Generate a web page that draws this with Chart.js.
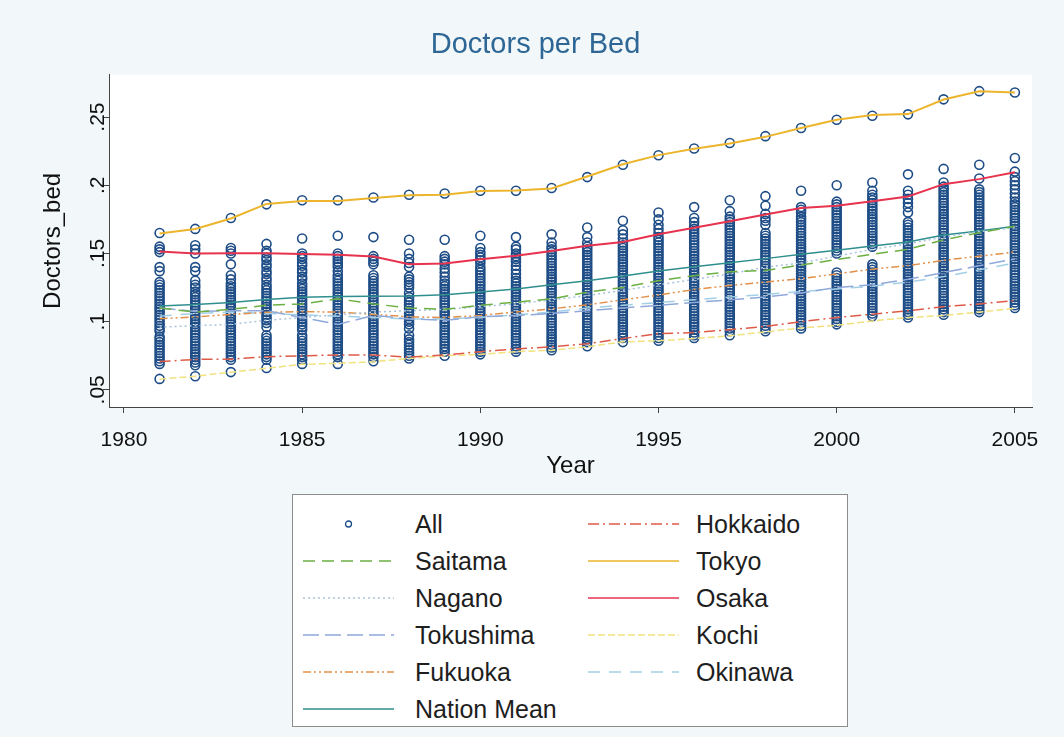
<!DOCTYPE html>
<html>
<head>
<meta charset="utf-8">
<title>Doctors per Bed</title>
<script src="https://cdn.jsdelivr.net/npm/chart.js@4.4.1/dist/chart.umd.min.js"></script>
<style>
  html, body { margin: 0; padding: 0; background: #f2f8f9; }
  body { width: 1064px; height: 737px; position: relative; overflow: hidden;
         font-family: "Liberation Sans", Arial, Helvetica, sans-serif; }
  #chartBox { position: absolute; left: 0; top: 0; width: 1064px; height: 490px; }
  #legend { position: absolute; left: 292px; top: 494px; width: 556px; height: 233px;
            box-sizing: border-box; border: 1px solid #8c8c8c; background: #fff; }
  .item { position: absolute; height: 30px; display: flex; align-items: center; white-space: nowrap; }
  .item svg { display: block; }
  .item span { position: absolute; font-size: 25px; color: #1e1e1e; line-height: 30px; }
</style>
</head>
<body>
<div id="chartBox"><canvas id="chart"></canvas></div>
<div id="legend"></div>

<script>
// --- data ---
const years = [1981, 1982, 1983, 1984, 1985, 1986, 1987, 1988, 1989, 1990, 1991, 1992, 1993,
               1994, 1995, 1996, 1997, 1998, 1999, 2000, 2001, 2002, 2003, 2004, 2005];

const xTicks = [1980, 1985, 1990, 1995, 2000, 2005];
const yTicks = [0.05, 0.1, 0.15, 0.2, 0.25];
const yTickLabels = ['.05', '.1', '.15', '.2', '.25'];

// all prefectures, one list per year (same order as years)
const allPoints = [
  [.165,.155,.153,.151,.140,.137,.129,.127,.125,.123,.121,.119,.117,.115,.113,.111,.109,.107,.105,.103,.101,.099,.097,.095,.093,.089,.087,.085,.083,.081,.079,.077,.075,.073,.071,.069,.058],
  [.168,.156,.153,.150,.140,.137,.130,.127,.125,.122,.120,.118,.116,.114,.112,.110,.108,.106,.104,.102,.100,.098,.096,.094,.092,.090,.088,.086,.084,.082,.080,.078,.076,.074,.072,.070,.068,.060],
  [.176,.154,.152,.150,.142,.134,.131,.128,.126,.124,.122,.120,.118,.116,.114,.112,.110,.108,.106,.104,.102,.100,.098,.096,.094,.092,.090,.088,.086,.084,.082,.080,.078,.076,.074,.072,.063],
  [.186,.157,.152,.150,.147,.145,.142,.140,.137,.135,.132,.130,.127,.125,.123,.121,.119,.117,.115,.113,.111,.109,.107,.105,.103,.101,.099,.096,.090,.088,.086,.084,.082,.080,.078,.076,.074,.072,.066],
  [.189,.161,.150,.148,.146,.143,.141,.138,.136,.133,.131,.128,.126,.124,.122,.120,.118,.116,.114,.112,.110,.108,.106,.104,.102,.100,.098,.096,.094,.090,.088,.086,.084,.082,.080,.078,.076,.074,.072,.069],
  [.189,.163,.150,.148,.146,.144,.142,.140,.137,.134,.132,.130,.128,.126,.124,.122,.120,.118,.116,.114,.112,.110,.108,.106,.104,.102,.100,.098,.096,.094,.092,.090,.088,.086,.084,.082,.080,.078,.076,.074,.069],
  [.191,.162,.148,.146,.144,.142,.134,.132,.130,.128,.126,.124,.122,.120,.118,.116,.114,.112,.110,.108,.106,.104,.102,.100,.098,.096,.094,.092,.090,.088,.086,.084,.082,.080,.078,.076,.074,.071],
  [.193,.160,.150,.146,.143,.140,.133,.131,.129,.127,.125,.121,.118,.116,.114,.112,.110,.108,.106,.104,.102,.100,.098,.095,.090,.087,.085,.083,.081,.079,.077,.075,.073],
  [.194,.160,.148,.146,.144,.142,.139,.136,.133,.130,.128,.126,.124,.122,.120,.118,.116,.114,.112,.110,.108,.106,.104,.102,.100,.098,.096,.094,.092,.090,.088,.086,.084,.082,.080,.078,.075],
  [.196,.163,.154,.151,.149,.147,.145,.143,.140,.138,.136,.134,.132,.130,.128,.126,.124,.122,.120,.118,.116,.114,.112,.110,.108,.106,.104,.102,.100,.098,.096,.094,.092,.090,.088,.086,.084,.082,.080,.078,.076],
  [.196,.162,.155,.153,.150,.148,.146,.144,.141,.138,.135,.132,.130,.128,.126,.124,.122,.120,.118,.116,.114,.112,.110,.108,.106,.104,.102,.100,.098,.096,.094,.092,.090,.088,.086,.084,.082,.080,.078],
  [.198,.164,.158,.155,.153,.151,.149,.147,.145,.143,.141,.139,.137,.135,.133,.131,.129,.127,.125,.123,.121,.119,.117,.115,.113,.111,.109,.107,.105,.103,.101,.099,.097,.095,.093,.091,.089,.087,.085,.083,.081,.079],
  [.206,.169,.162,.158,.155,.153,.151,.149,.147,.145,.143,.141,.139,.137,.135,.133,.131,.129,.127,.125,.123,.121,.119,.117,.115,.113,.111,.109,.107,.105,.103,.101,.099,.097,.095,.093,.091,.089,.087,.085,.082],
  [.215,.174,.167,.164,.161,.158,.156,.154,.152,.150,.148,.146,.144,.142,.140,.138,.136,.134,.132,.130,.128,.126,.124,.122,.120,.118,.116,.114,.112,.110,.108,.106,.104,.102,.100,.098,.096,.094,.092,.090,.088,.085],
  [.222,.180,.175,.171,.168,.165,.162,.160,.158,.156,.154,.152,.150,.148,.146,.144,.142,.140,.138,.136,.134,.132,.130,.128,.126,.124,.122,.120,.118,.116,.114,.112,.110,.108,.106,.104,.102,.100,.098,.096,.094,.092,.090,.088,.086],
  [.227,.184,.176,.173,.170,.168,.166,.164,.162,.160,.158,.156,.154,.152,.150,.148,.146,.144,.142,.140,.138,.136,.134,.132,.130,.128,.126,.124,.122,.120,.118,.116,.114,.112,.110,.108,.106,.104,.102,.100,.098,.096,.094,.092,.090,.088],
  [.231,.189,.181,.177,.175,.173,.171,.169,.167,.165,.163,.161,.159,.157,.155,.153,.151,.149,.147,.145,.143,.141,.139,.137,.135,.133,.131,.129,.127,.125,.123,.121,.119,.117,.115,.113,.111,.109,.107,.105,.103,.101,.099,.097,.095,.093,.090],
  [.236,.192,.185,.179,.176,.174,.171,.165,.163,.161,.159,.157,.155,.153,.151,.149,.147,.145,.143,.141,.139,.137,.135,.133,.131,.129,.127,.125,.123,.121,.119,.117,.115,.113,.111,.109,.107,.105,.103,.101,.099,.097,.095,.093],
  [.242,.196,.184,.182,.180,.177,.175,.173,.171,.169,.167,.165,.163,.161,.159,.157,.155,.153,.151,.149,.147,.145,.143,.141,.139,.137,.135,.133,.131,.129,.127,.125,.123,.121,.119,.117,.115,.113,.111,.109,.107,.105,.103,.101,.099,.097,.095],
  [.248,.200,.188,.186,.184,.182,.180,.178,.176,.174,.172,.170,.168,.166,.164,.162,.160,.158,.156,.154,.152,.150,.136,.134,.132,.130,.128,.126,.124,.122,.120,.118,.116,.114,.112,.110,.108,.106,.104,.102,.100,.098],
  [.251,.202,.196,.193,.191,.189,.187,.185,.183,.181,.179,.177,.175,.173,.171,.169,.167,.165,.163,.161,.159,.157,.155,.142,.140,.138,.136,.134,.132,.130,.128,.126,.124,.122,.120,.118,.116,.114,.112,.110,.108,.106,.104],
  [.252,.208,.196,.193,.190,.187,.184,.180,.173,.171,.169,.167,.165,.163,.161,.159,.157,.155,.153,.151,.149,.147,.145,.143,.141,.139,.137,.135,.133,.131,.129,.127,.125,.123,.121,.119,.117,.115,.113,.111,.109,.107,.105,.103],
  [.263,.212,.202,.199,.197,.195,.193,.191,.189,.187,.185,.183,.181,.179,.177,.175,.173,.171,.169,.167,.165,.163,.161,.159,.157,.155,.153,.151,.149,.147,.145,.143,.141,.139,.137,.135,.133,.131,.129,.127,.125,.123,.121,.119,.117,.115,.113,.111,.109,.107,.105],
  [.269,.215,.205,.197,.195,.193,.191,.189,.187,.185,.183,.181,.179,.177,.175,.173,.171,.169,.167,.165,.163,.161,.159,.157,.155,.153,.151,.149,.147,.145,.143,.141,.139,.137,.135,.133,.131,.129,.127,.125,.123,.121,.119,.117,.115,.113,.111,.109,.107],
  [.268,.220,.210,.206,.203,.200,.197,.194,.191,.188,.186,.184,.182,.180,.178,.176,.174,.172,.170,.168,.166,.164,.162,.160,.158,.156,.154,.152,.150,.148,.146,.144,.142,.140,.138,.136,.134,.132,.130,.128,.126,.124,.122,.120,.118,.116,.114,.112,.110]
];

const hokkaido = [.0707,.0723,.0725,.0743,.075,.0755,.0755,.074,.0755,.078,.080,.0815,.0838,.0876,.0912,.092,.0941,.0965,.100,.103,.1055,.108,.111,.113,.1155];
const saitama  = [.110,.107,.109,.112,.113,.1167,.113,.110,.109,.112,.1143,.1167,.1216,.1251,.130,.1337,.1365,.1375,.1415,.1455,.1494,.153,.160,.1652,.170];
const tokyo    = [.1647,.168,.1756,.1863,.1885,.1885,.1906,.1926,.1931,.1958,.1962,.1976,.2064,.2154,.2221,.2267,.2306,.2355,.242,.2481,.2515,.2522,.2629,.269,.268];
const nagano   = [.096,.097,.098,.101,.103,.105,.107,.108,.109,.111,.113,.116,.119,.123,.127,.131,.135,.140,.143,.148,.153,.157,.162,.166,.169];
const osaka    = [.1514,.150,.1502,.1502,.1496,.149,.1478,.1421,.1426,.1458,.1483,.1518,.1556,.1584,.164,.1688,.1736,.1785,.1834,.185,.1882,.1918,.2008,.2045,.2096];
const tokushima = [.110,.1075,.108,.108,.103,.098,.1045,.102,.101,.1035,.1045,.106,.108,.110,.112,.114,.116,.118,.121,.125,.127,.131,.136,.141,.146];
const kochi    = [.0578,.060,.0629,.0658,.0687,.0694,.0706,.073,.075,.076,.078,.079,.0816,.0852,.086,.0876,.0896,.0925,.0953,.0973,.1005,.103,.1045,.107,.1097];
const fukuoka  = [.1021,.1035,.1053,.1068,.1073,.107,.1053,.1035,.103,.1045,.107,.1094,.1123,.116,.1195,.1235,.1265,.129,.1315,.135,.1385,.141,.145,.148,.151];
const okinawa  = [.104,.106,.107,.106,.105,.104,.103,.102,.102,.103,.105,.107,.110,.112,.114,.116,.118,.120,.122,.124,.126,.129,.133,.138,.143];
const nationMean = [.1114,.1125,.114,.1162,.1178,.1185,.1187,.1188,.1198,.1217,.124,.127,.130,.1335,.1372,.1403,.1432,.1462,.1494,.1523,.1555,.1584,.1635,.1664,.170];

const FONT = '"Liberation Sans", Arial, Helvetica, sans-serif';

// --- datasets ---
function lineSet(label, values, color, dash, width) {
    return {
        type: 'line',
        label: label,
        data: years.map(function(yr, i) { return { x: yr, y: values[i] }; }),
        borderColor: color,
        backgroundColor: color,
        borderDash: dash,
        borderWidth: width,
        pointRadius: 0,
        fill: false,
        tension: 0,
        order: 1
    };
}

const scatterPts = [];
allPoints.forEach(function(list, i) {
    list.forEach(function(v) { scatterPts.push({ x: years[i], y: v }); });
});

const datasets = [
    {
        type: 'scatter',
        label: 'All',
        data: scatterPts,
        pointStyle: 'circle',
        pointRadius: 4.5,
        pointBorderWidth: 1.6,
        borderColor: '#1d4c86',
        backgroundColor: 'rgba(0,0,0,0)',
        order: 10
    },
    lineSet('Hokkaido', hokkaido, '#de5b48', [11, 4, 2, 4], 1.5),
    lineSet('Saitama', saitama, '#6cb043', [12, 7], 1.5),
    lineSet('Tokyo', tokyo, '#ecb52c', [], 2),
    lineSet('Nagano', nagano, '#a9c4dc', [2, 3], 1.5),
    lineSet('Osaka', osaka, '#e8334f', [], 2),
    lineSet('Tokushima', tokushima, '#8fa9db', [16, 6], 1.5),
    lineSet('Kochi', kochi, '#f1e27e', [7, 3], 1.5),
    lineSet('Fukuoka', fukuoka, '#e2914a', [8, 3, 2, 3, 2, 3], 1.5),
    lineSet('Okinawa', okinawa, '#a3cfe6', [12, 9], 1.5),
    lineSet('Nation Mean', nationMean, '#2f8f8e', [], 1.5)
];

// white plot region, light graph region (done by the page)
const plotBg = {
    id: 'plotBg',
    beforeDraw: function(chart) {
        const a = chart.chartArea;
        const ctx = chart.ctx;
        ctx.save();
        ctx.fillStyle = '#ffffff';
        ctx.fillRect(a.left, a.top, a.right - a.left, a.bottom - a.top);
        ctx.restore();
    }
};

const chart = new Chart(document.getElementById('chart'), {
    type: 'scatter',
    data: { datasets: datasets },
    plugins: [plotBg],
    options: {
        responsive: true,
        maintainAspectRatio: false,
        animation: false,
        layout: { padding: { left: 39, right: 32, top: 0, bottom: 7 } },
        plugins: {
            legend: { display: false },
            tooltip: { enabled: false },
            title: {
                display: true,
                text: 'Doctors per Bed',
                color: '#2e6796',
                font: { family: FONT, size: 29, weight: 'normal' },
                padding: { top: 28, bottom: 12 }
            }
        },
        scales: {
            x: {
                type: 'linear',
                min: 1979.58,
                max: 2005.48,
                afterBuildTicks: function(axis) {
                    axis.ticks = xTicks.map(function(v) { return { value: v }; });
                },
                ticks: {
                    autoSkip: false,
                    maxRotation: 0,
                    padding: 15,
                    color: '#111',
                    font: { family: FONT, size: 21 },
                    callback: function(v) { return String(v); }
                },
                grid: { display: true, drawOnChartArea: false, drawTicks: true, tickLength: 6, color: '#444' },
                border: { display: true, color: '#444', width: 1 },
                title: {
                    display: true,
                    text: 'Year',
                    color: '#111',
                    font: { family: FONT, size: 24 },
                    padding: { top: -16, bottom: 2 }
                }
            },
            y: {
                type: 'linear',
                min: 0.0374,
                max: 0.281,
                afterBuildTicks: function(axis) {
                    axis.ticks = yTicks.map(function(v) { return { value: v }; });
                },
                ticks: {
                    autoSkip: false,
                    minRotation: 90,
                    maxRotation: 90,
                    crossAlign: 'center',
                    padding: -10,
                    color: '#111',
                    font: { family: FONT, size: 21 },
                    callback: function(v, i) { return yTickLabels[i]; }
                },
                grid: { display: true, drawOnChartArea: false, drawTicks: true, tickLength: 6, color: '#444' },
                border: { display: true, color: '#444', width: 1 },
                title: {
                    display: true,
                    text: 'Doctors_bed',
                    color: '#111',
                    font: { family: FONT, size: 24 },
                    padding: { top: 0, bottom: 30 }
                }
            }
        }
    }
});

// --- legend: two columns, built from the chart datasets ---
const legendOrder = [
    ['All', 'Hokkaido'],
    ['Saitama', 'Tokyo'],
    ['Nagano', 'Osaka'],
    ['Tokushima', 'Kochi'],
    ['Fukuoka', 'Okinawa'],
    ['Nation Mean', null]
];
const rowCenters = [29, 66, 103, 140, 177, 214];
const colSample = [10, 295];
const colLabel = [122, 403];

function sampleSvg(ds) {
    const ns = 'http://www.w3.org/2000/svg';
    const svg = document.createElementNS(ns, 'svg');
    svg.setAttribute('width', '91');
    svg.setAttribute('height', '14');
    if (ds.type === 'scatter') {
        const c = document.createElementNS(ns, 'circle');
        c.setAttribute('cx', '45.5');
        c.setAttribute('cy', '7');
        c.setAttribute('r', '3');
        c.setAttribute('fill', 'none');
        c.setAttribute('stroke', ds.borderColor);
        c.setAttribute('stroke-width', '1.3');
        svg.appendChild(c);
    } else {
        const l = document.createElementNS(ns, 'line');
        l.setAttribute('x1', '0');
        l.setAttribute('x2', '91');
        l.setAttribute('y1', '7');
        l.setAttribute('y2', '7');
        l.setAttribute('stroke', ds.borderColor);
        l.setAttribute('stroke-width', '1.5');
        if (ds.borderDash.length) l.setAttribute('stroke-dasharray', ds.borderDash.join(' '));
        svg.appendChild(l);
    }
    return svg;
}

const legendBox = document.getElementById('legend');
legendOrder.forEach(function(row, r) {
    row.forEach(function(name, c) {
        if (!name) return;
        const ds = chart.data.datasets.find(function(d) { return d.label === name; });
        const item = document.createElement('div');
        item.className = 'item';
        item.style.left = colSample[c] + 'px';
        item.style.top = (rowCenters[r] - 15) + 'px';
        item.appendChild(sampleSvg(ds));
        const span = document.createElement('span');
        span.textContent = name;
        span.style.left = (colLabel[c] - colSample[c]) + 'px';
        item.appendChild(span);
        legendBox.appendChild(item);
    });
});
</script>
</body>
</html>
